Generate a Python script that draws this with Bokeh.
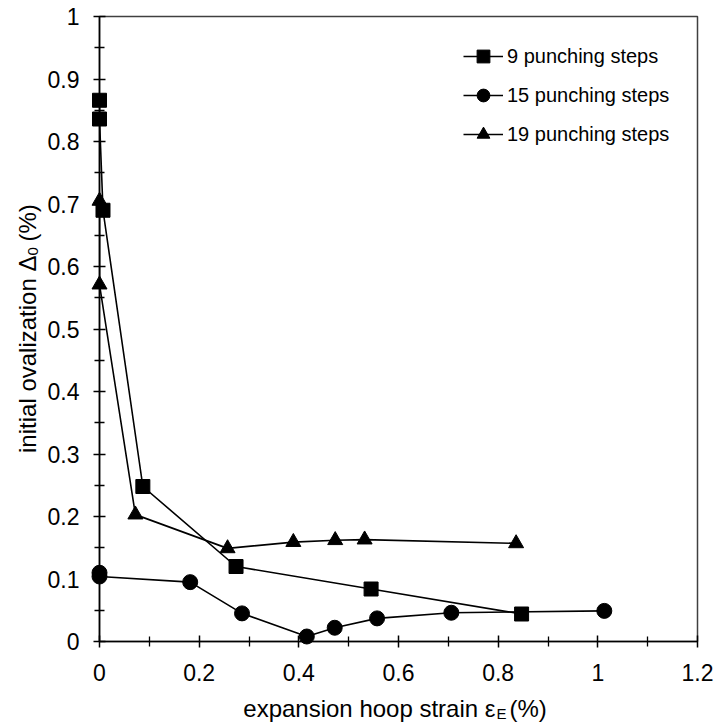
import math
from bokeh.plotting import figure
from bokeh.models import Range1d, FixedTicker, Legend, LegendItem
from bokeh.core.properties import value
from bokeh.embed import file_html
from bokeh.resources import INLINE

# ---------------- data ----------------
series_names = ["9 punching steps", "15 punching steps", "19 punching steps"]

sq_x = [0.0, 0.0, 0.007, 0.087, 0.274, 0.545, 0.847]
sq_y = [0.866, 0.836, 0.690, 0.248, 0.120, 0.084, 0.044]

ci_x = [0.0, 0.0, 0.182, 0.286, 0.416, 0.472, 0.557, 0.706, 1.013]
ci_y = [0.110, 0.104, 0.095, 0.045, 0.008, 0.022, 0.037, 0.046, 0.049]

tr_x = [0.0, 0.0, 0.072, 0.257, 0.389, 0.473, 0.532, 0.836]
tr_y = [0.705, 0.571, 0.203, 0.149, 0.159, 0.162, 0.163, 0.157]

x_ticks = [0.0, 0.2, 0.4, 0.6, 0.8, 1.0, 1.2]
x_tick_labels = ["0", "0.2", "0.4", "0.6", "0.8", "1", "1.2"]
x_minor = [0.1, 0.3, 0.5, 0.7, 0.9, 1.1]
y_ticks = [0.0, 0.1, 0.2, 0.3, 0.4, 0.5, 0.6, 0.7, 0.8, 0.9, 1.0]
y_tick_labels = ["0", "0.1", "0.2", "0.3", "0.4", "0.5", "0.6", "0.7", "0.8", "0.9", "1"]
y_minor = [0.05, 0.15, 0.25, 0.35, 0.45, 0.55, 0.65, 0.75, 0.85, 0.95]

x_title = ["expansion hoop strain \u03b5", "E", "(%)"]
y_title = ["initial ovalization \u0394", "0", "(%)"]

# ---------------- layout ----------------
W, H = 717, 725
FL, FR, FT, FB = 99, 20, 16, 84
X0, X1 = 0.0, 1.2
Y0, Y1 = 0.0, 1.0
FW, FH = W - FL - FR, H - FT - FB

def px_x(page_x):
    return X0 + (page_x - FL) / FW * (X1 - X0)

def px_y(page_y):
    return Y1 - (page_y - FT) / FH * (Y1 - Y0)

FONT = "Liberation Sans"

p = figure(width=W, height=H, x_range=Range1d(X0, X1), y_range=Range1d(Y0, Y1),
           output_backend="svg", toolbar_location=None, title=None,
           min_border_left=FL, min_border_right=FR, min_border_top=FT, min_border_bottom=FB)
p.outline_line_color = "#404040"
p.outline_line_width = 1.5
p.grid.visible = False
p.background_fill_color = "white"
p.border_fill_color = "white"

for ax, ticks, labels, minor, standoff in ((p.xaxis[0], x_ticks, x_tick_labels, x_minor, 16),
                                           (p.yaxis[0], y_ticks, y_tick_labels, y_minor, 14)):
    ax.ticker = FixedTicker(ticks=ticks, minor_ticks=minor)
    ax.major_label_overrides = {t: l for t, l in zip(ticks, labels)}
    ax.axis_line_color = "black"
    ax.axis_line_width = 1.6
    ax.major_tick_line_color = "black"
    ax.major_tick_line_width = 1.5
    ax.minor_tick_line_color = "black"
    ax.minor_tick_line_width = 1.3
    ax.major_tick_in = 6
    ax.major_tick_out = 6
    ax.minor_tick_in = 5
    ax.minor_tick_out = 5
    ax.major_label_text_font = FONT
    ax.major_label_text_font_size = "23px"
    ax.major_label_text_color = "black"
    ax.major_label_standoff = standoff

r_sq_l = p.line(sq_x, sq_y, line_color="black", line_width=1.6)
r_ci_l = p.line(ci_x, ci_y, line_color="black", line_width=1.6)
r_tr_l = p.line(tr_x, tr_y, line_color="black", line_width=1.6)
r_sq_m = p.scatter(sq_x, sq_y, marker="square", size=14, fill_color="black", line_color="black", level="overlay")
r_ci_m = p.scatter(ci_x, ci_y, marker="circle", size=15, fill_color="black", line_color="black", level="overlay")
r_tr_m = p.scatter(tr_x, tr_y, marker="triangle", size=15, fill_color="black", line_color="black", level="overlay")

legend = Legend(items=[LegendItem(label=series_names[0], renderers=[r_sq_l, r_sq_m]),
                       LegendItem(label=series_names[1], renderers=[r_ci_l, r_ci_m]),
                       LegendItem(label=series_names[2], renderers=[r_tr_l, r_tr_m])],
                location=(364, 491), orientation="vertical",
                border_line_color=None, background_fill_alpha=0,
                label_text_font=FONT, label_text_font_size="20px", label_text_color="black",
                glyph_width=40, glyph_height=32, spacing=7, padding=5, margin=0,
                label_standoff=4)
p.add_layout(legend)

# axis titles (text glyphs at overlay level so they are drawn outside the frame)
def title_piece(px, py, txt, align, size, angle=0.0):
    p.text(x=[px_x(px)], y=[px_y(py)], text=[txt], angle=angle, text_align=align,
           text_baseline="alphabetic", text_font=value(FONT), text_font_size=size,
           text_color="black", level="overlay")

# x title: "expansion hoop strain ε" + subscript E + "(%)"
title_piece(495, 708, x_title[0], "right", "24px")
title_piece(496, 713, x_title[1], "left", "15px")
title_piece(509, 708, x_title[2], "left", "24px")

# y title (rotated): "initial ovalization Δ" + subscript 0 + "(%)"
A = math.pi / 2
title_piece(27, 255, y_title[0], "right", "24px", A)
title_piece(32, 255, y_title[1], "left", "15px", A)
title_piece(27, 241, y_title[2], "left", "24px", A)

open("out.html", "w").write(file_html(p, INLINE))
